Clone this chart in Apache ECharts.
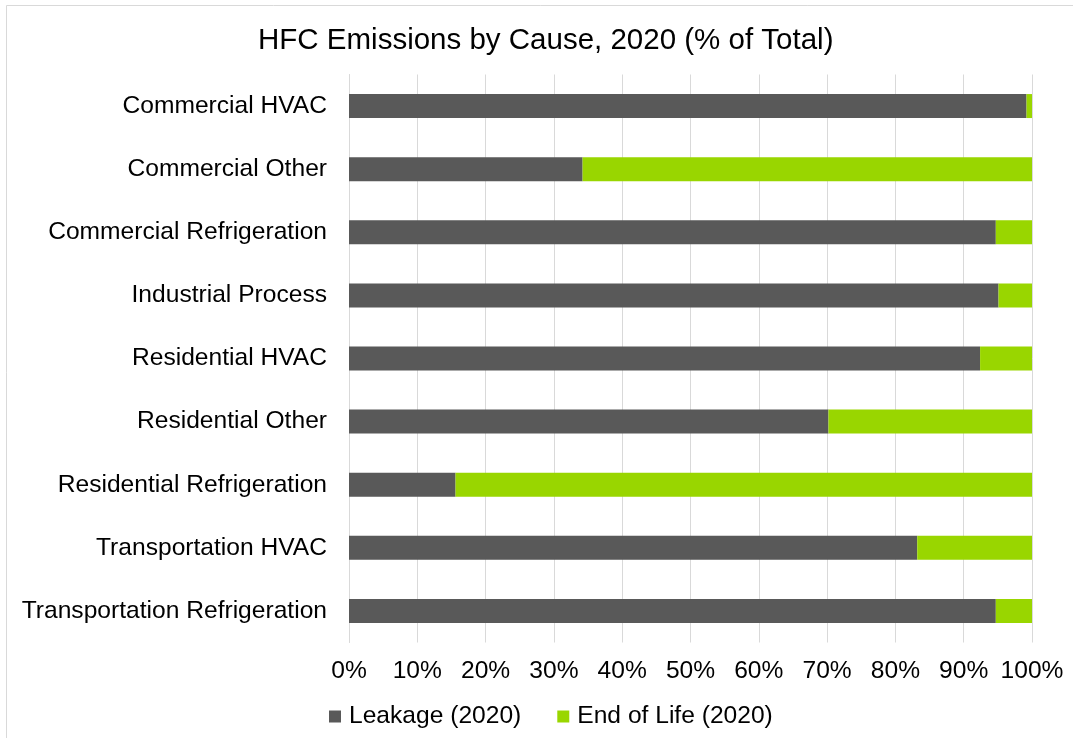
<!DOCTYPE html>
<html>
<head>
<meta charset="utf-8">
<script src="https://cdn.jsdelivr.net/npm/echarts@6/dist/echarts.min.js"></script>
<style>
  html, body { margin: 0; padding: 0; background: #fff; }
  #chart { width: 1073px; height: 738px; }
</style>
</head>
<body>
<div id="chart"></div>
<script>
const categories = [
  'Commercial HVAC',
  'Commercial Other',
  'Commercial Refrigeration',
  'Industrial Process',
  'Residential HVAC',
  'Residential Other',
  'Residential Refrigeration',
  'Transportation HVAC',
  'Transportation Refrigeration'
];
const leakage = [99.2, 34.2, 94.7, 95.1, 92.4, 70.2, 15.6, 83.2, 94.7];
const endOfLife = [0.8, 65.8, 5.3, 4.9, 7.6, 29.8, 84.4, 16.8, 5.3];
const xTicks = [0, 10, 20, 30, 40, 50, 60, 70, 80, 90, 100];

const FONT = '"Liberation Sans", Arial, sans-serif';
const chart = echarts.init(document.getElementById('chart'), null, { renderer: 'canvas' });

chart.setOption({
  animation: false,
  backgroundColor: '#ffffff',
  textStyle: { fontFamily: FONT },
  graphic: [{
    type: 'rect',
    shape: { x: 6.5, y: 5.5, width: 1100, height: 800 },
    style: { fill: 'none', stroke: '#d9d9d9', lineWidth: 1 },
    silent: true
  }],
  title: {
    text: 'HFC Emissions by Cause, 2020 (% of Total)',
    left: 258,
    top: 26,
    padding: 0,
    textStyle: { fontFamily: FONT, fontSize: 29.5, fontWeight: 'normal', color: '#000' }
  },
  legend: {
    top: 699,
    left: 324,
    itemWidth: 12,
    itemHeight: 12,
    itemGap: 36,
    icon: 'rect',
    textStyle: { fontFamily: FONT, fontSize: 24.6, color: '#000', padding: [0, 0, 0, 3] },
    data: ['Leakage (2020)', 'End of Life (2020)']
  },
  grid: { left: 349, right: 41, top: 74.5, bottom: 95.5, containLabel: false },
  xAxis: {
    type: 'value',
    min: 0,
    max: 100,
    interval: 10,
    axisLine: { show: false },
    axisTick: { show: false },
    splitLine: { show: true, lineStyle: { color: '#d9d9d9', width: 1 } },
    axisLabel: {
      margin: 16,
      fontFamily: FONT,
      fontSize: 24.6,
      color: '#000',
      formatter: v => (xTicks.includes(v) ? v + '%' : '')
    }
  },
  yAxis: {
    type: 'category',
    inverse: true,
    data: categories,
    axisLine: { show: true, lineStyle: { color: '#d9d9d9', width: 1 } },
    axisTick: { show: false },
    axisLabel: { margin: 22, fontFamily: FONT, fontSize: 24.6, color: '#000' }
  },
  series: [
    {
      name: 'Leakage (2020)',
      type: 'bar',
      stack: 'total',
      barCategoryGap: '62%',
      itemStyle: { color: '#595959' },
      data: leakage
    },
    {
      name: 'End of Life (2020)',
      type: 'bar',
      stack: 'total',
      barCategoryGap: '62%',
      itemStyle: { color: '#99d600' },
      data: endOfLife
    }
  ]
});
</script>
</body>
</html>
